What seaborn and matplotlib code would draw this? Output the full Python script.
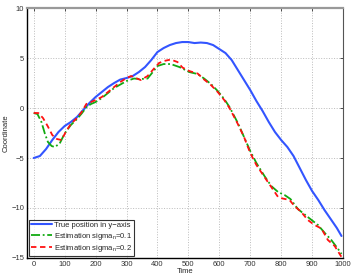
import pandas as pd
import matplotlib
matplotlib.use('Agg')
import matplotlib.pyplot as plt
import seaborn as sns

# values
t_true = [0, 20, 40, 60, 80, 100, 120, 140, 160, 180, 200, 220, 240, 260, 280, 300,
          320, 340, 360, 380, 400, 420, 440, 460, 480, 500, 520, 540, 560, 580, 600,
          620, 640, 660, 680, 700, 720, 740, 760, 780, 800, 820, 840, 860, 880, 900,
          920, 940, 960, 980, 995]
y_true = [-5.0, -4.8, -4.1, -3.2, -2.4, -1.8, -1.4, -0.9, -0.2, 0.5, 1.1, 1.6, 2.1, 2.5,
          2.85, 3.0, 3.2, 3.6, 4.1, 4.8, 5.6, 6.0, 6.3, 6.5, 6.6, 6.6, 6.5, 6.55, 6.5,
          6.3, 5.9, 5.5, 4.8, 3.8, 2.8, 1.8, 0.7, -0.3, -1.4, -2.4, -3.2, -3.9, -4.8,
          -6.0, -7.2, -8.3, -9.2, -10.2, -11.1, -12.0, -12.8]

t_est1 = [0, 12, 25, 36, 46, 58, 68, 84, 100, 120, 140, 155, 171, 185, 200, 220, 240,
          260, 280, 300, 324, 345, 368, 385, 400, 420, 443, 471, 503, 530, 551, 573,
          595, 616, 633, 660, 680, 700, 720, 746, 768, 790, 811, 830, 854, 886, 919,
          941, 962, 984, 995]
y_est1 = [-0.5, -0.6, -1.4, -2.55, -3.4, -3.8, -3.9, -3.55, -2.55, -1.7, -1.1, -0.55,
          0.1, 0.4, 0.6, 1.0, 1.5, 2.0, 2.35, 2.7, 2.95, 2.9, 2.95, 3.6, 4.2, 4.4, 4.4,
          4.1, 3.6, 3.4, 2.95, 2.4, 1.7, 0.9, 0.1, -1.5, -2.9, -4.3, -5.5, -6.8, -7.8,
          -8.4, -8.7, -9.1, -10.1, -10.9, -11.7, -12.5, -13.2, -14.1, -14.6]

t_est2 = [0, 15, 30, 45, 60, 75, 90, 105, 120, 140, 155, 170, 185, 200, 220, 240, 260,
          280, 300, 315, 330, 346, 368, 389, 405, 420, 443, 465, 481, 503, 530, 551,
          573, 595, 616, 633, 660, 680, 700, 720, 746, 768, 790, 805, 827, 843, 865,
          886, 908, 930, 951, 973, 995]
y_est2 = [-0.5, -0.5, -1.0, -1.8, -2.7, -3.1, -3.2, -2.3, -1.6, -1.0, -0.4, 0.4, 0.6,
          0.8, 1.1, 1.6, 2.1, 2.6, 3.0, 3.2, 3.0, 2.8, 3.2, 3.95, 4.5, 4.7, 4.85, 4.6,
          4.05, 3.7, 3.45, 2.85, 2.3, 1.6, 0.8, 0.0, -1.6, -2.9, -4.5, -5.7, -6.9,
          -7.9, -8.9, -9.05, -9.2, -9.8, -10.4, -11.2, -11.7, -12.05, -13.2, -13.8, -14.9]

labels = ['True position in y\u2212axis',
          'Estimation sigma$_{n}$=0.1',
          'Estimation sigma$_{n}$=0.2']

sns.set_style('white')
plt.rcParams['font.family'] = ['Liberation Sans', 'DejaVu Sans']
plt.rcParams['mathtext.fontset'] = 'custom'
plt.rcParams['mathtext.rm'] = 'Liberation Sans'
plt.rcParams['mathtext.it'] = 'Liberation Sans'

fig = plt.figure(figsize=(3.54, 2.78), dpi=100)
ax = fig.add_axes([0.076, 0.072, 0.893, 0.899])

sns.lineplot(x=t_true, y=y_true, ax=ax, color='#3355ff', linewidth=1.5,
             label=labels[0])
sns.lineplot(x=t_est1, y=y_est1, ax=ax, color='#11aa11', linewidth=1.3,
             linestyle=(0, (5, 1.5, 1, 1.5)), label=labels[1])
sns.lineplot(x=t_est2, y=y_est2, ax=ax, color='#ff1111', linewidth=1.3,
             linestyle=(0, (3, 2)), label=labels[2])

ax.set_xlim(-22, 1000)
ax.set_ylim(-15, 10)
ax.set_xticks(range(0, 1001, 100))
ax.set_yticks([-15, -10, -5, 0, 5, 10])
ax.grid(True, linestyle=':', color='#bbbbbb', linewidth=0.7)
ax.tick_params(direction='in', length=2, width=0.6, labelsize=5.5, pad=2,
               top=True, right=True, colors='#333333')
ax.set_xlabel('Time', fontsize=5.5, labelpad=0)
ax.set_ylabel('Coordinate', fontsize=5.5, labelpad=1)

for side in ['left', 'bottom']:
    ax.spines[side].set_color('black')
    ax.spines[side].set_linewidth(1.0)
ax.spines['top'].set_color('#999999')
ax.spines['top'].set_linewidth(1.6)
ax.spines['right'].set_color('#555555')
ax.spines['right'].set_linewidth(0.8)

leg = ax.legend(loc='lower left', fontsize=5.5, frameon=True, fancybox=False,
                handlelength=2.8, borderpad=0.25, labelspacing=0.2,
                handletextpad=0.3, borderaxespad=0.25)
leg.get_frame().set_edgecolor('black')
leg.get_frame().set_linewidth(0.8)

fig.savefig('out.png', dpi=100)
